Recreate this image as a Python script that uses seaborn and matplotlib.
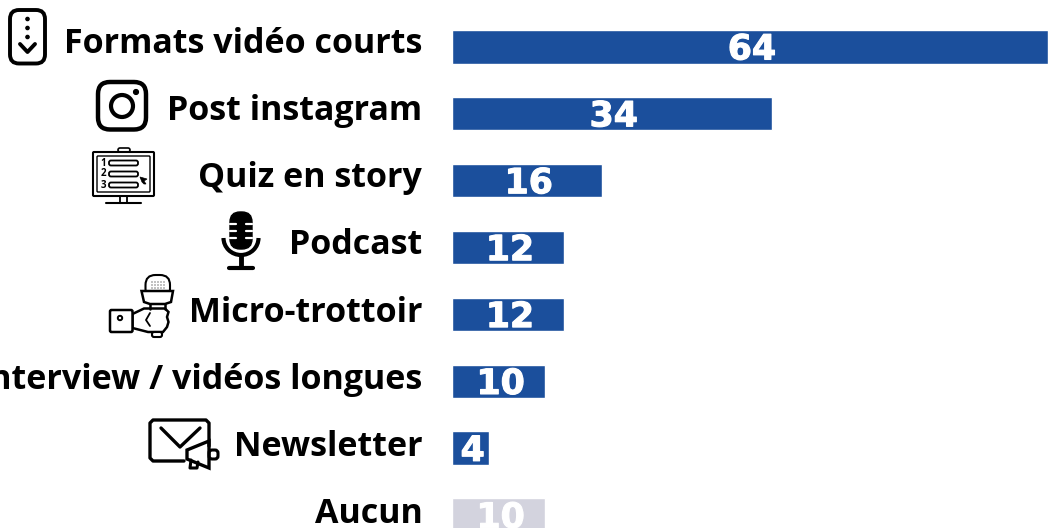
import matplotlib
matplotlib.use("Agg")
import matplotlib.pyplot as plt
import seaborn as sns
import pandas as pd
import matplotlib.patheffects as pe
from matplotlib.patches import FancyBboxPatch, Circle, Polygon, Arc
from matplotlib.lines import Line2D
from matplotlib.transforms import ScaledTranslation

categories = ["Formats vidéo courts", "Post instagram", "Quiz en story", "Podcast",
              "Micro-trottoir", "Interview / vidéos longues", "Newsletter", "Aucun"]
value_labels = ["64", "34", "16", "12", "12", "10", "4", "10"]
bar_lengths = [64, 34.3, 16.05, 12, 12, 10, 4, 10]
bar_colors = ["#1B4F9C"] * 7 + ["#D3D3DE"]

sns.set_theme(style="white")
plt.rcParams['font.family'] = ['Open Sans', 'DejaVu Sans']

W, H = 1048, 528
fig = plt.figure(figsize=(W / 100, H / 100), dpi=100)
ax = fig.add_axes([452.2 / W, 0, (W - 452.2) / W, 1])
df = pd.DataFrame({"cat": categories, "val": bar_lengths})
sns.barplot(data=df, y="cat", x="val", hue="cat", palette=bar_colors, legend=False,
            width=0.5, ax=ax, saturation=1, dodge=False)
ax.set_xlim(0, 64)
ax.set_ylim((528 - 46.8) / 66.9, -46.8 / 66.9)
ax.set_xlabel(""); ax.set_ylabel("")
ax.set_xticks([]); ax.set_yticks(range(len(categories)))
ax.set_yticklabels(categories, fontsize=24.5, fontweight="bold", color="black")
ax.tick_params(axis="y", length=0, pad=21.5)
for i, lab in enumerate(ax.get_yticklabels()):
    lab.set_va("baseline")
    lab.set_transform(lab.get_transform()
                      + ScaledTranslation(0, -(6 + 0.3 * i) / 100, fig.dpi_scale_trans))
sns.despine(ax=ax, left=True, bottom=True, top=True, right=True)
ax.patch.set_alpha(0)
for i, (v, t) in enumerate(zip(bar_lengths, value_labels)):
    ax.text(v / 2 + 0.2, i + 0.04, t, ha="center", va="center", color="white",
            fontsize=25, fontweight="bold", family=["DejaVu Sans"],
            path_effects=[pe.withStroke(linewidth=0.8, foreground="white")])

ov = fig.add_axes([0, 0, 1, 1])
ov.set_xlim(0, W); ov.set_ylim(H, 0); ov.axis("off"); ov.patch.set_alpha(0)
k = "black"
def rr(x, y, w, h, r=5, lw=2.5, fc="none"):
    ov.add_patch(FancyBboxPatch((x + r, y + r), w - 2 * r, h - 2 * r, boxstyle=f"round,pad={r}",
                                fc=fc, ec=k, lw=lw))
def ln(xs, ys, lw=2, c=k):
    ov.add_line(Line2D(xs, ys, color=c, lw=lw, solid_capstyle="round"))
# phone
rr(10, 10, 35, 53.5, 9, 2.8)
for yy in (19, 28, 37):
    ov.add_patch(Circle((27.5, yy), 1.6, fc=k, ec=k))
ln([20, 27.5, 35], [44, 52, 44], 2.8)
# instagram
rr(98, 82, 48, 47.5, 12, 3.2)
ov.add_patch(Circle((122, 106), 11, fc="none", ec=k, lw=3))
ov.add_patch(Circle((136, 92), 2.4, fc=k, ec=k))
# quiz screen
rr(93, 152, 61, 44, 1, 1.5)
rr(97, 156, 53, 36, 1, 1)
for n, yy in zip("123", (163, 174, 185)):
    ov.text(103, yy, n, fontsize=7, fontweight="bold", ha="center", va="center", color=k)
    rr(109, yy - 2.5, 29, 5, 2, 1.3)
ov.add_patch(Polygon([[140, 177], [147, 179], [144, 181], [146, 184], [144, 184], [142, 182]], fc=k, ec=k, lw=0.5))
rr(118, 148, 12, 4, 2, 1.2)
ln([120, 120], [196, 203], 1.3); ln([127, 127], [196, 203], 1.3); ln([106, 141], [203, 203], 1.5)
# microphone
rr(230, 212, 22, 37, 10, 1, fc=k)
for yy in (224, 231, 238):
    ln([230, 236], [yy, yy], 1.6, "white")
    ln([246, 252], [yy, yy], 1.6, "white")
ov.add_patch(Arc((241, 238), 35, 34, theta1=0, theta2=180, ec=k, lw=3))
ln([241, 241], [255, 267], 3.5); ln([229, 253], [268, 268], 3)
# reporter
rr(145.5, 275, 24.5, 24, 10, 1.5)
for yy in (282, 285, 288):
    for xx in (152, 155, 158, 161, 164):
        ov.add_patch(Circle((xx, yy), 0.55, fc=k, ec=k, lw=0))
ov.add_patch(Polygon([[141.5, 291], [173, 291], [171, 302], [165, 304], [150, 304], [144, 302]],
                     fc="white", ec=k, lw=1.8))
ln([150, 150], [304, 309], 1.8); ln([165, 165], [304, 309], 1.8)
ov.add_patch(Polygon([[132.5, 314], [144, 308.5], [165, 308.5], [168.5, 312], [167, 317], [168.5, 322],
                      [167, 327], [163, 332], [148, 332], [132.5, 328]], fc="white", ec=k, lw=1.8))
ln([150, 146, 150], [313, 320, 326], 1.3)
rr(110, 310, 22.5, 22, 1.5, 1.8, fc="white")
ov.add_patch(Circle((120, 318), 2.2, fc="none", ec=k, lw=1.4))
rr(152, 332, 10, 5, 2, 1.5, fc="white")
# newsletter
ov.add_line(Line2D([209, 209, 206, 153, 150, 150, 153, 184], [446, 423, 420, 420, 423, 458, 461, 461],
                   color=k, lw=2.4))
ln([161, 180, 200], [428, 447, 428], 2.4)
ov.add_patch(Polygon([[187, 450], [209, 441], [209, 468], [187, 459]], fc="white", ec=k, lw=2.4))
rr(209, 450, 9, 9, 3, 2.2)
ln([191, 190, 197, 198], [460, 468, 468, 462], 2.2)

fig.savefig("out.png", dpi=100)
